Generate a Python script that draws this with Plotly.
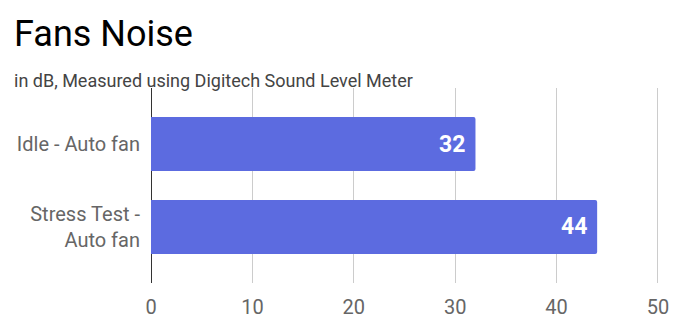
import plotly.graph_objects as go

categories = ["Idle - Auto fan", "Stress Test -<br>Auto fan"]
values = [32, 44]
x_ticks = [0, 10, 20, 30, 40, 50]

W, H = 695, 320
L, R, T, B = 151, 36, 88, 37
pw = W - L - R
ph = H - T - B


def px_x(x):
    return (x - L) / pw


def px_y(y):
    return (H - B - y) / ph


fig = go.Figure()
fig.add_trace(go.Bar(
    x=values, y=categories, orientation="h",
    marker=dict(color="#5c6be0", cornerradius=2, line=dict(width=0)),
    width=0.65,
    hoverinfo="skip",
))

for v, c in zip(values, categories):
    fig.add_annotation(x=v, y=c, xref="x", yref="y", text=f"<b>{v}</b>",
                       showarrow=False, xanchor="right", yanchor="middle",
                       xshift=-8, yshift=0,
                       font=dict(family="Roboto", size=23, color="white"))

fig.add_annotation(xref="paper", yref="paper", x=px_x(12), y=px_y(57),
                   text="Fans Noise", showarrow=False, xanchor="left", yanchor="bottom",
                   font=dict(family="Roboto", size=36, color="#000000"))
fig.add_annotation(xref="paper", yref="paper", x=px_x(12), y=px_y(93),
                   text="in dB, Measured using Digitech Sound Level Meter", showarrow=False,
                   xanchor="left", yanchor="bottom",
                   font=dict(family="Roboto", size=18, color="#444444"))

fig.update_layout(
    width=W, height=H,
    margin=dict(l=L, r=R, t=T, b=B, pad=0),
    paper_bgcolor="white", plot_bgcolor="white",
    showlegend=False,
    xaxis=dict(range=[0, 50.1], tickvals=x_ticks, showgrid=True, gridcolor="#cccccc",
               gridwidth=1, zeroline=True, zerolinecolor="#333333", zerolinewidth=1,
               showline=False, ticks="", tickfont=dict(family="Roboto", size=20, color="#666666"),
               ticklabelstandoff=10, automargin=False),
    yaxis=dict(range=[1.675, -0.675], showgrid=False, zeroline=False, showline=False,
               ticks="", tickfont=dict(family="Roboto", size=20, color="#666666"),
               ticklabelstandoff=10, automargin=False),
)

fig.write_html("out.html")
